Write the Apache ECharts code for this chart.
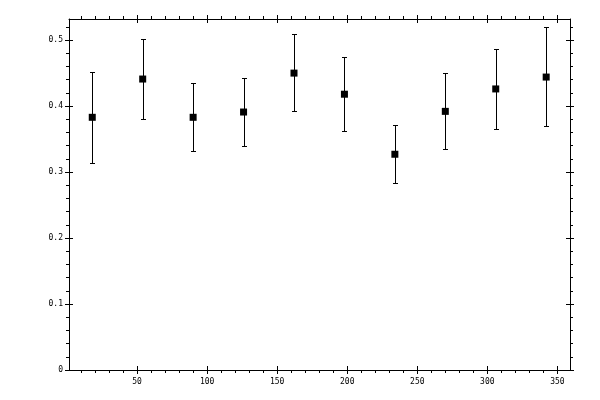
<!DOCTYPE html>
<html>
<head>
<meta charset="utf-8">
<script src="https://cdn.jsdelivr.net/npm/echarts@6/dist/echarts.min.js"></script>
<style>html,body{margin:0;padding:0;background:#fff;}#c{width:600px;height:400px;}</style>
</head>
<body>
<div id="c"></div>
<script>
const xValues = [18, 54, 90, 126, 162, 198, 234, 270, 306, 342];
const yValues = [0.383, 0.441, 0.383, 0.391, 0.450, 0.418, 0.327, 0.392, 0.426, 0.444];
const yLow    = [0.314, 0.381, 0.332, 0.339, 0.392, 0.362, 0.283, 0.335, 0.366, 0.370];
const yHigh   = [0.451, 0.502, 0.435, 0.442, 0.509, 0.474, 0.371, 0.450, 0.486, 0.520];
const xMajorTicks = [50, 100, 150, 200, 250, 300, 350];
const xMinorTicks = [10, 20, 30, 40, 60, 70, 80, 90, 110, 120, 130, 140, 160, 170, 180, 190, 210, 220, 230, 240, 260, 270, 280, 290, 310, 320, 330, 340];
const yMajorTicks = [0, 0.1, 0.2, 0.3, 0.4, 0.5];
const yMinorTicks = [0.02, 0.04, 0.06, 0.08, 0.12, 0.14, 0.16, 0.18, 0.22, 0.24, 0.26, 0.28, 0.32, 0.34, 0.36, 0.38, 0.42, 0.44, 0.46, 0.48, 0.52];

const X_MIN = 1.4, X_MAX = 359;
const Y_MIN = 0, Y_MAX = 0.532;
const black = '#000';
const font = 'DejaVu Sans Mono';

function mkAxis(kind, position, opts) {
  const a = {
    type: 'value', position: position, offset: 0,
    min: kind === 'x' ? X_MIN : Y_MIN,
    max: kind === 'x' ? X_MAX : Y_MAX,
    splitLine: {show: false},
    axisLine: {show: !!opts.line, onZero: false, lineStyle: {color: black, width: 1}},
    axisTick: {show: true, inside: !!opts.inside, length: opts.len,
      customValues: opts.ticks, lineStyle: {color: black, width: 1}},
    axisLabel: {show: false}
  };
  if (opts.labels) {
    a.axisLabel = {show: true, customValues: opts.ticks, color: black,
      fontFamily: font, fontSize: 8, margin: opts.margin,
      formatter: v => (Math.round(v * 1000) / 1000).toString()};
  }
  return a;
}

const xAxes = [
  mkAxis('x', 'bottom', {line: true, ticks: xMajorTicks, len: 4, labels: true, margin: 8}),
  mkAxis('x', 'bottom', {inside: true, ticks: xMajorTicks, len: 4}),
  mkAxis('x', 'bottom', {ticks: xMinorTicks, len: 3}),
  mkAxis('x', 'top', {line: true, ticks: xMajorTicks, len: 4}),
  mkAxis('x', 'top', {inside: true, ticks: xMajorTicks, len: 4}),
  mkAxis('x', 'top', {ticks: xMinorTicks, len: 3})
];
const yAxes = [
  mkAxis('y', 'left', {line: true, ticks: yMajorTicks, len: 4, labels: true, margin: 6}),
  mkAxis('y', 'left', {inside: true, ticks: yMajorTicks, len: 4}),
  mkAxis('y', 'left', {ticks: yMinorTicks, len: 3}),
  mkAxis('y', 'right', {line: true, ticks: yMajorTicks, len: 4}),
  mkAxis('y', 'right', {inside: true, ticks: yMajorTicks, len: 4}),
  mkAxis('y', 'right', {ticks: yMinorTicks, len: 3})
];

const errData = xValues.map((x, i) => [x, yLow[i], yHigh[i]]);
const ptData = xValues.map((x, i) => [x, yValues[i]]);

const chart = echarts.init(document.getElementById('c'), null, {renderer: 'canvas'});
chart.setOption({
  animation: false,
  backgroundColor: '#fff',
  grid: {left: 69, right: 30, top: 19, bottom: 30, containLabel: false},
  xAxis: xAxes,
  yAxis: yAxes,
  series: [
    {
      type: 'custom', xAxisIndex: 0, yAxisIndex: 0,
      data: errData,
      renderItem: function (params, api) {
        const x = api.value(0);
        const lo = api.coord([x, api.value(1)]);
        const hi = api.coord([x, api.value(2)]);
        const cx = Math.round(lo[0]) + 0.5;
        const hw = 2.5;
        const st = {stroke: black, lineWidth: 1, fill: null};
        return {type: 'group', children: [
          {type: 'line', shape: {x1: cx, y1: Math.round(lo[1]) + 0.5, x2: cx, y2: Math.round(hi[1]) + 0.5}, style: st},
          {type: 'line', shape: {x1: cx - hw, y1: Math.round(lo[1]) + 0.5, x2: cx + hw, y2: Math.round(lo[1]) + 0.5}, style: st},
          {type: 'line', shape: {x1: cx - hw, y1: Math.round(hi[1]) + 0.5, x2: cx + hw, y2: Math.round(hi[1]) + 0.5}, style: st}
        ]};
      }
    },
    {
      type: 'scatter', xAxisIndex: 0, yAxisIndex: 0,
      data: ptData, symbol: 'rect', symbolSize: 7,
      itemStyle: {color: black, opacity: 1}
    }
  ]
});
</script>
</body>
</html>
